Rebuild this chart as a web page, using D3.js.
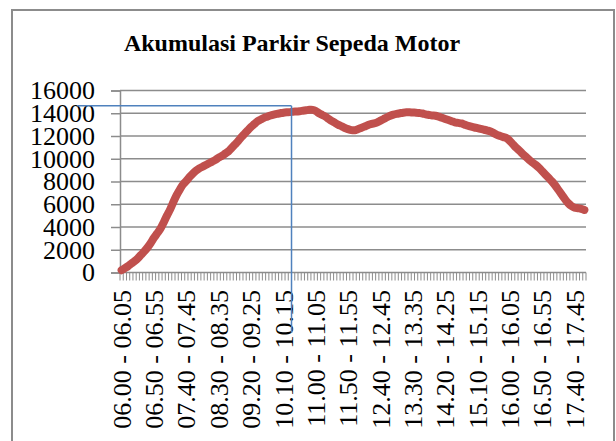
<!DOCTYPE html>
<meta charset="utf-8">
<style>
  body { margin: 0; background: #fff; }
  text { font-family: "Liberation Serif", "Times New Roman", serif; }
</style>
<script src="https://d3js.org/d3.v7.min.js"></script>
<div id="chart"></div>
<script>
// data: motorcycle parking accumulation per 5-minute interval, 06.00 - 18.00
var title = "Akumulasi Parkir Sepeda Motor";
var yTicks = [0, 2000, 4000, 6000, 8000, 10000, 12000, 14000, 16000];
var tickLabels = ["06.00 - 06.05", "06.50 - 06.55", "07.40 - 07.45", "08.30 - 08.35",
  "09.20 - 09.25", "10.10 - 10.15", "11.00 - 11.05", "11.50 - 11.55", "12.40 - 12.45",
  "13.30 - 13.35", "14.20 - 14.25", "15.10 - 15.15", "16.00 - 16.05", "16.50 - 16.55",
  "17.40 - 17.45"];
var accumulation = [
  200, 380, 560, 780, 1000, 1250, 1550, 1850, 2200, 2600,
  3050, 3450, 3850, 4400, 5000, 5550, 6200, 6800, 7300, 7750,
  8050, 8400, 8700, 8950, 9150, 9300, 9450, 9600, 9750, 9900,
  10100, 10250, 10450, 10650, 10950, 11250, 11550, 11900, 12200, 12500,
  12800, 13050, 13300, 13450, 13600, 13700, 13800, 13880, 13950, 14000,
  14050, 14080, 14100, 14140, 14150, 14180, 14220, 14260, 14300, 14300,
  14200, 14000, 13850, 13700, 13500, 13300, 13150, 12980, 12850, 12700,
  12600, 12520, 12500, 12600, 12700, 12820, 12950, 13050, 13100, 13200,
  13350, 13500, 13650, 13780, 13880, 13950, 14000, 14050, 14080, 14080,
  14060, 14050, 14020, 13980, 13900, 13850, 13800, 13780, 13700, 13600,
  13500, 13400, 13300, 13200, 13150, 13100, 13000, 12900, 12820, 12750,
  12700, 12620, 12550, 12480, 12400, 12250, 12100, 12000, 11900, 11800,
  11550, 11250, 10950, 10700, 10400, 10150, 9900, 9650, 9450, 9200,
  8900, 8600, 8300, 8000, 7650, 7250, 6850, 6450, 6100, 5850,
  5700, 5650, 5600, 5500];
// hand-drawn marker lines (blue)
var markerCategory = "10.25 - 10.30";
var markerValue = 14650;

// category names, one per 5 minutes
function hhmm(m) {
  var h = Math.floor(m / 60), mm = m % 60;
  return (h < 10 ? "0" : "") + h + "." + (mm < 10 ? "0" : "") + mm;
}
var categories = accumulation.map(function(d, i) {
  return hhmm(360 + i * 5) + " - " + hhmm(365 + i * 5);
});

var W = 616, H = 441;
var plot = {left: 120, right: 586, top: 90.5, bottom: 272.5};

var svg = d3.select("#chart").append("svg")
  .attr("width", W).attr("height", H);

svg.append("rect").attr("width", W).attr("height", H).attr("fill", "#fff");

// outer frame
svg.append("rect")
  .attr("x", 12).attr("y", 10).attr("width", 602).attr("height", 460)
  .attr("fill", "none").attr("stroke", "#8c8c8c").attr("stroke-width", 2);

svg.append("text")
  .attr("x", 292).attr("y", 51)
  .attr("text-anchor", "middle")
  .attr("font-family", "Liberation Serif, serif")
  .style("font-size", "24px").style("font-weight", "bold")
  .text(title);

var x = d3.scaleBand().domain(categories).range([plot.left, plot.right]);
var y = d3.scaleLinear().domain([0, 16000]).range([plot.bottom, plot.top]);

// gridlines
svg.append("g").selectAll("line")
  .data(yTicks.slice(1))
  .enter().append("line")
    .attr("x1", plot.left).attr("x2", plot.right)
    .attr("y1", function(d) { return y(d); })
    .attr("y2", function(d) { return y(d); })
    .attr("stroke", "#8c8c8c").attr("stroke-width", 1.5);

// y axis
var yAxis = svg.append("g")
  .attr("transform", "translate(" + plot.left + ",0)")
  .call(d3.axisLeft(y).tickValues(yTicks).tickSize(9).tickPadding(16).tickFormat(d3.format("d")));
yAxis.select(".domain").attr("stroke", "#8c8c8c").attr("stroke-width", 1.5);
yAxis.selectAll(".tick line").attr("stroke", "#8c8c8c").attr("stroke-width", 1.5);
yAxis.selectAll("text")
  .attr("font-family", "Liberation Serif, serif")
  .style("font-size", "26px").attr("fill", "#000");

// x axis: tick at every category boundary
var bounds = categories.map(function(c) { return x(c); }).concat([plot.right]);
var xg = svg.append("g");
xg.selectAll("line.tk")
  .data(bounds)
  .enter().append("line")
    .attr("class", "tk")
    .attr("x1", function(d) { return d; }).attr("x2", function(d) { return d; })
    .attr("y1", plot.bottom).attr("y2", plot.bottom + 8)
    .attr("stroke", "#8c8c8c").attr("stroke-width", 1);
xg.append("line")
  .attr("x1", plot.left).attr("x2", plot.right).attr("y1", plot.bottom).attr("y2", plot.bottom)
  .attr("stroke", "#8c8c8c").attr("stroke-width", 1.5);

xg.selectAll("text")
  .data(tickLabels)
  .enter().append("text")
    .attr("transform", function(d) {
      return "translate(" + (x(d) + x.bandwidth() / 2) + "," + 290 + ")rotate(-90)";
    })
    .attr("dy", "0.35em")
    .attr("text-anchor", "end")
    .style("font-size", "26px")
    .text(function(d) { return d; });

// series line
var line = d3.line()
  .x(function(d, i) { return x(categories[i]) + x.bandwidth() / 2; })
  .y(function(d) { return y(d); })
  .curve(d3.curveCatmullRom);

svg.append("path")
  .datum(accumulation)
  .attr("d", line)
  .attr("fill", "none")
  .attr("stroke", "#c0504d")
  .attr("stroke-width", 8)
  .attr("stroke-linejoin", "round")
  .attr("stroke-linecap", "round");

// blue marker lines
var mx = x(markerCategory), my = y(markerValue);
svg.append("line")
  .attr("x1", 77).attr("x2", mx).attr("y1", my).attr("y2", my)
  .attr("stroke", "#4f81bd").attr("stroke-width", 1.5);
svg.append("line")
  .attr("x1", mx).attr("x2", mx).attr("y1", my).attr("y2", 333)
  .attr("stroke", "#4f81bd").attr("stroke-width", 1.5);
</script>
